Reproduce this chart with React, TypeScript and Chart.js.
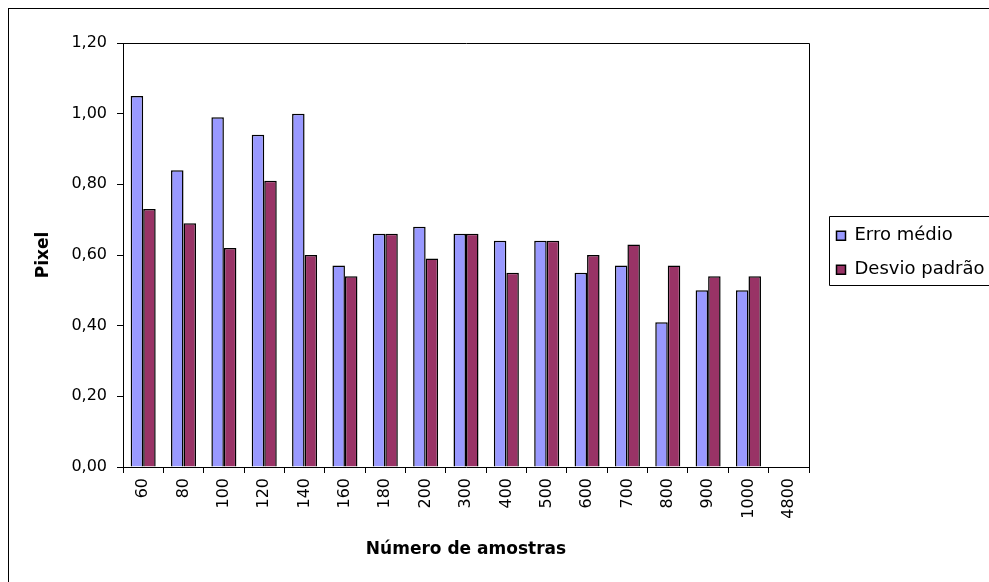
import React, { useEffect, useRef } from 'react';
import { Chart, registerables } from 'chart.js';

Chart.register(...registerables);

const categories = ['60', '80', '100', '120', '140', '160', '180', '200', '300', '400', '500', '600', '700', '800', '900', '1000', '4800'];
const erroMedio = [1.05, 0.84, 0.99, 0.94, 1.0, 0.57, 0.66, 0.68, 0.66, 0.64, 0.64, 0.55, 0.57, 0.41, 0.5, 0.5, null];
const desvioPadrao = [0.73, 0.69, 0.62, 0.81, 0.6, 0.54, 0.66, 0.59, 0.66, 0.55, 0.64, 0.6, 0.63, 0.57, 0.54, 0.54, null];
const seriesNames = ['Erro médio', 'Desvio padrão'];
const yMin = 0;
const yMax = 1.2;
const yStep = 0.2;
const xTitle = 'Número de amostras';
const yTitle = 'Pixel';

const CANVAS_W = 990;
const CANVAS_H = 573;
const FONT = '"DejaVu Sans", sans-serif';

const framePlugin = {
  id: 'frameAndLegend',
  afterLayout(chart: any) {
    const lg = chart.legend;
    if (!lg) return;
    const w = lg.width;
    const h = lg.height;
    lg.left = chart.chartArea.right + 11.5;
    lg.right = lg.left + w;
    lg.top = 201.8;
    lg.bottom = lg.top + h;
  },
  afterDraw(chart: any) {
    const { ctx, chartArea } = chart;
    ctx.save();
    ctx.strokeStyle = '#000';
    ctx.lineWidth = 1;
    const t = Math.round(chartArea.top - 0.5) + 0.5;
    const r = Math.round(chartArea.right - 0.5) + 0.5;
    const l = Math.round(chartArea.left - 0.5) + 0.5;
    const b = Math.round(chartArea.bottom - 0.5) + 0.5;
    ctx.beginPath();
    ctx.moveTo(l, t);
    ctx.lineTo(r, t);
    ctx.lineTo(r, b);
    ctx.stroke();
    const hb = chart.legend && chart.legend.legendHitBoxes;
    if (hb && hb.length) {
      const first = hb[0];
      const last = hb[hb.length - 1];
      const lx = Math.round(first.left - 8) + 0.5;
      const ly = Math.round(first.top - 11) + 0.5;
      const by = Math.round(last.top + last.height + 6) + 0.5;
      ctx.strokeStyle = '#000';
      ctx.beginPath();
      ctx.moveTo(chart.width + 5, ly);
      ctx.lineTo(lx, ly);
      ctx.lineTo(lx, by);
      ctx.lineTo(chart.width + 5, by);
      ctx.stroke();
    }
    ctx.restore();
  },
};

export default function App() {
  const ref = useRef<HTMLCanvasElement | null>(null);

  useEffect(() => {
    if (!ref.current) return;
    Chart.defaults.font.family = FONT;
    Chart.defaults.color = '#000';
    const chart = new Chart(ref.current, {
      type: 'bar',
      data: {
        labels: categories,
        datasets: [
          {
            label: seriesNames[0],
            data: erroMedio,
            backgroundColor: '#9999FF',
            borderColor: '#000000',
            borderWidth: 1.5,
            categoryPercentage: 0.62,
            barPercentage: 1.0,
          },
          {
            label: seriesNames[1],
            data: desvioPadrao,
            backgroundColor: '#993366',
            borderColor: '#000000',
            borderWidth: 1.5,
            categoryPercentage: 0.62,
            barPercentage: 1.0,
          },
        ],
      },
      options: {
        animation: false,
        responsive: false,
        devicePixelRatio: 1,
        layout: { padding: { top: 34, right: CANVAS_W - 800, bottom: 0, left: 0 } },
        plugins: {
          tooltip: { enabled: false },
          legend: {
            position: 'chartArea',
            align: 'start',
            labels: {
              boxWidth: 9,
              boxHeight: 9,
              padding: 16,
              color: '#000',
              font: { family: FONT, size: 18 },
            },
          },
        },
        scales: {
          x: {
            grid: {
              display: true,
              drawOnChartArea: false,
              drawTicks: true,
              tickLength: 6,
              color: '#000',
              tickColor: '#000',
              offset: true,
            },
            border: { display: true, color: '#000', width: 1 },
            ticks: {
              autoSkip: false,
              minRotation: 90,
              maxRotation: 90,
              padding: 5,
              color: '#000',
              font: { family: FONT, size: 16 },
            },
            title: {
              display: true,
              text: xTitle,
              color: '#000',
              font: { family: FONT, size: 17, weight: 'bold' },
              padding: { top: 0, bottom: 22 },
            },
            afterFit: (scale: any) => {
              scale.height = CANVAS_H - 458;
            },
          },
          y: {
            min: yMin,
            max: yMax,
            grid: {
              display: true,
              drawOnChartArea: false,
              drawTicks: true,
              tickLength: 6,
              color: '#000',
              tickColor: '#000',
            },
            border: { display: true, color: '#000', width: 1 },
            ticks: {
              stepSize: yStep,
              padding: 10,
              color: '#000',
              font: { family: FONT, size: 16 },
              callback: (v: any) => Number(v).toFixed(2).replace('.', ','),
            },
            title: {
              display: true,
              text: yTitle,
              color: '#000',
              font: { family: FONT, size: 17, weight: 'bold' },
              padding: { top: 24, bottom: 0 },
            },
            afterFit: (scale: any) => {
              scale.width = 114;
            },
          },
        },
      },
      plugins: [framePlugin],
    } as any);
    return () => chart.destroy();
  }, []);

  return (
    <div style={{ position: 'fixed', left: 0, top: 0, width: 989, height: 582, overflow: 'hidden', background: '#fff' }}>
      <div
        style={{
          position: 'absolute',
          left: 8,
          top: 8,
          width: 1010,
          height: 600,
          border: '1px solid #000',
          background: '#fff',
        }}
      >
        <canvas ref={ref} width={CANVAS_W} height={CANVAS_H} style={{ display: 'block', width: CANVAS_W, height: CANVAS_H }} />
      </div>
    </div>
  );
}
